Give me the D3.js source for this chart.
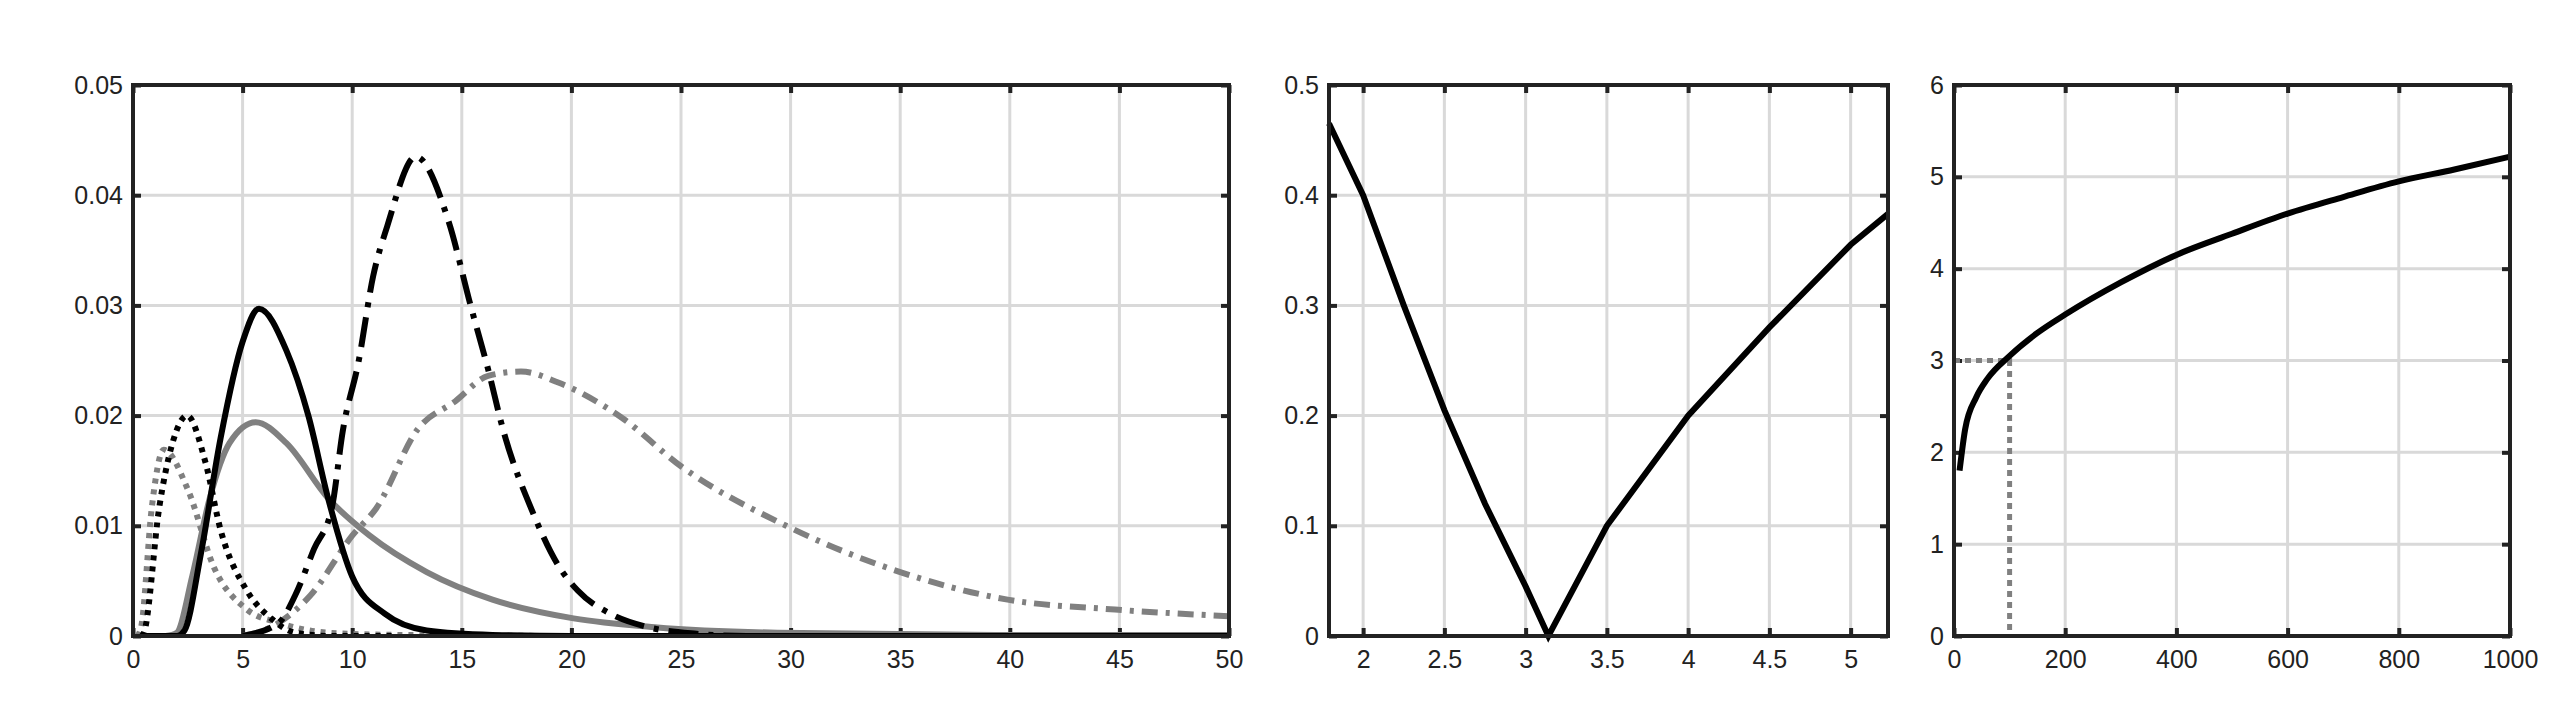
<!DOCTYPE html><html><head><script src="https://cdn.jsdelivr.net/npm/d3@7"></script>
<style>body{margin:0;background:#fff}</style></head><body><svg id="c" width="2568" height="724"></svg>
<script>
// Panel 1 data
const p1Xticks=[0,5,10,15,20,25,30,35,40,45,50];
const p1Yticks=[0,0.01,0.02,0.03,0.04,0.05];
const grayDotX=[0.2,0.37,0.86,1.4,2.5,3.7,5.2,6.65,8.9,12,20];
const grayDotY=[0,0.0008,0.0117,0.0169,0.0133,0.0062,0.0024,0.0012,0.0003,0.0001,0];
const blackDotX=[0.4,0.5,1.2,1.8,2.47,3.3,4,5.2,6.3,7.4,9,12];
const blackDotY=[0,0.0003,0.0117,0.0175,0.02,0.0158,0.0096,0.0041,0.0016,0.0003,0,0];
const graySolidX=[1.5,2,2.7,3.5,4.4,5.6,7,8.9,10.8,13.4,16.4,20.1,23.8,29.4,40,50];
const graySolidY=[0,0.0003,0.0054,0.0125,0.0175,0.0194,0.0175,0.0125,0.0091,0.0058,0.0033,0.0016,0.0008,0.0003,0.0001,0.0001];
const blackSolidX=[0.5,2,2.35,3.1,4,5,5.75,7,8,8.9,10,11.5,13.4,16.4,20,50];
const blackSolidY=[0,0,0.0005,0.0075,0.018,0.0267,0.0297,0.0259,0.02,0.0125,0.0054,0.002,0.0005,0.0001,0,0];
const blackDDX=[5,6.65,7.4,8.26,9.08,9.57,10.3,10.95,11.6,12.9,14.4,15.4,16.2,16.9,18.2,19.4,20.3,21.8,23.5,25.7,28,50];
const blackDDY=[0,0.0012,0.0037,0.0079,0.0117,0.0186,0.025,0.0326,0.0372,0.0435,0.0376,0.03,0.0242,0.0186,0.0114,0.0064,0.0041,0.002,0.0008,0.0002,0,0];
const grayDDX=[5,6.3,8.1,10,11.1,13,14.7,16.2,17.7,19.4,22.3,25,29.8,35,39.9,44.8,50];
const grayDDY=[0,0.0008,0.0037,0.0091,0.0116,0.0188,0.0213,0.0236,0.024,0.023,0.0198,0.0154,0.01,0.0058,0.0033,0.0024,0.0018];
// Panel 2
const p2Xticks=[2,2.5,3,3.5,4,4.5,5];
const p2Yticks=[0,0.1,0.2,0.3,0.4,0.5];
const p2X=[1.79,2,2.25,2.5,2.75,3,3.14,3.5,4,4.5,5,5.23];
const p2Y=[0.465,0.40,0.30,0.205,0.12,0.045,0,0.1,0.2,0.28,0.355,0.383];
// Panel 3
const p3Xticks=[0,200,400,600,800,1000];
const p3Yticks=[0,1,2,3,4,5,6];
const p3X=[10,20,40,60,100,150,200,300,400,500,600,700,800,900,1000];
const p3Y=[1.8,2.25,2.6,2.8,3.05,3.3,3.5,3.85,4.15,4.38,4.6,4.78,4.95,5.08,5.22];
const guideX=[0,100,100];const guideY=[3,3,0];

const svg=d3.select('#c');
const pTop=85,pBot=636;
function panel(x0,x1,xd,yd,xt,yt,fmtY){
  const x=d3.scaleLinear().domain(xd).range([x0,x1]);
  const y=d3.scaleLinear().domain(yd).range([pBot,pTop]);
  const g=svg.append('g');
  g.selectAll('.gx').data(xt.filter(t=>t>xd[0]&&t<xd[1])).join('line').attr('x1',x).attr('x2',x).attr('y1',pTop).attr('y2',pBot).attr('stroke','#d9d9d9').attr('stroke-width',3);
  g.selectAll('.gy').data(yt.filter(t=>t>yd[0]&&t<yd[1])).join('line').attr('y1',y).attr('y2',y).attr('x1',x0).attr('x2',x1).attr('stroke','#d9d9d9').attr('stroke-width',3);
  g.append('g').attr('transform',`translate(0,${pBot})`).call(d3.axisBottom(x).tickValues(xt).tickSizeInner(-8).tickSizeOuter(0).tickPadding(14).tickFormat(d3.format('')));
  g.append('g').attr('transform',`translate(${x0},0)`).call(d3.axisLeft(y).tickValues(yt).tickSizeInner(-8).tickSizeOuter(0).tickPadding(10).tickFormat(fmtY));
  g.append('g').attr('transform',`translate(0,${pTop})`).call(d3.axisTop(x).tickValues(xt).tickSizeInner(-8).tickSizeOuter(0).tickFormat(''));
  g.append('g').attr('transform',`translate(${x1},0)`).call(d3.axisRight(y).tickValues(yt).tickSizeInner(-8).tickSizeOuter(0).tickFormat(''));
  g.selectAll('.domain').remove();
  g.selectAll('.tick line').attr('stroke','#222').attr('stroke-width',4);
  g.selectAll('text').attr('font-family','Liberation Sans, Arial').attr('font-size',25).attr('fill','#222');
  return {x,y,g};
}
function frame(p,x0,x1){p.g.append('rect').attr('x',x0).attr('y',pTop).attr('width',x1-x0).attr('height',pBot-pTop).attr('fill','none').attr('stroke','#222').attr('stroke-width',4);}
function draw(p,X,Y,color,dash,w,curve){
  const pts=X.map((v,i)=>[v,Y[i]]);
  p.g.append('path').datum(pts).attr('d',d3.line().x(d=>p.x(d[0])).y(d=>p.y(d[1])).curve(curve||d3.curveMonotoneX))
   .attr('fill','none').attr('stroke',color).attr('stroke-width',w||6).attr('stroke-dasharray',dash||null).attr('stroke-linecap','butt');
}
svg.append('clipPath').attr('id','cl1').append('rect').attr('x',131).attr('y',pTop-10).attr('width',1100).attr('height',pBot-pTop+10);
const P1=panel(133,1229,[0,50],[0,0.05],p1Xticks,p1Yticks,d3.format(''));
const gc=P1.g.append('g').attr('clip-path','url(#cl1)');
const P1c={x:P1.x,y:P1.y,g:gc};
draw(P1c,graySolidX,graySolidY,'#808080');
draw(P1c,grayDotX,grayDotY,'#808080','5,6');
draw(P1c,grayDDX,grayDDY,'#808080','16,8,4,8');
draw(P1c,blackSolidX,blackSolidY,'#000');
draw(P1c,blackDotX,blackDotY,'#000','5,6');
draw(P1c,blackDDX,blackDDY,'#000','30,10,5,10');
frame(P1,133,1229);
const P2=panel(1329,1888,[1.79,5.23],[0,0.5],p2Xticks,p2Yticks,d3.format(''));
draw(P2,p2X,p2Y,'#000',null,6,d3.curveLinear);
frame(P2,1329,1888);
const P3=panel(1954,2510,[0,1000],[0,6],p3Xticks,p3Yticks,d3.format(''));
draw(P3,guideX,guideY,'#808080','6,5',5,d3.curveLinear);
draw(P3,p3X,p3Y,'#000',null,6,d3.curveMonotoneX);
frame(P3,1954,2510);
</script></body></html>
